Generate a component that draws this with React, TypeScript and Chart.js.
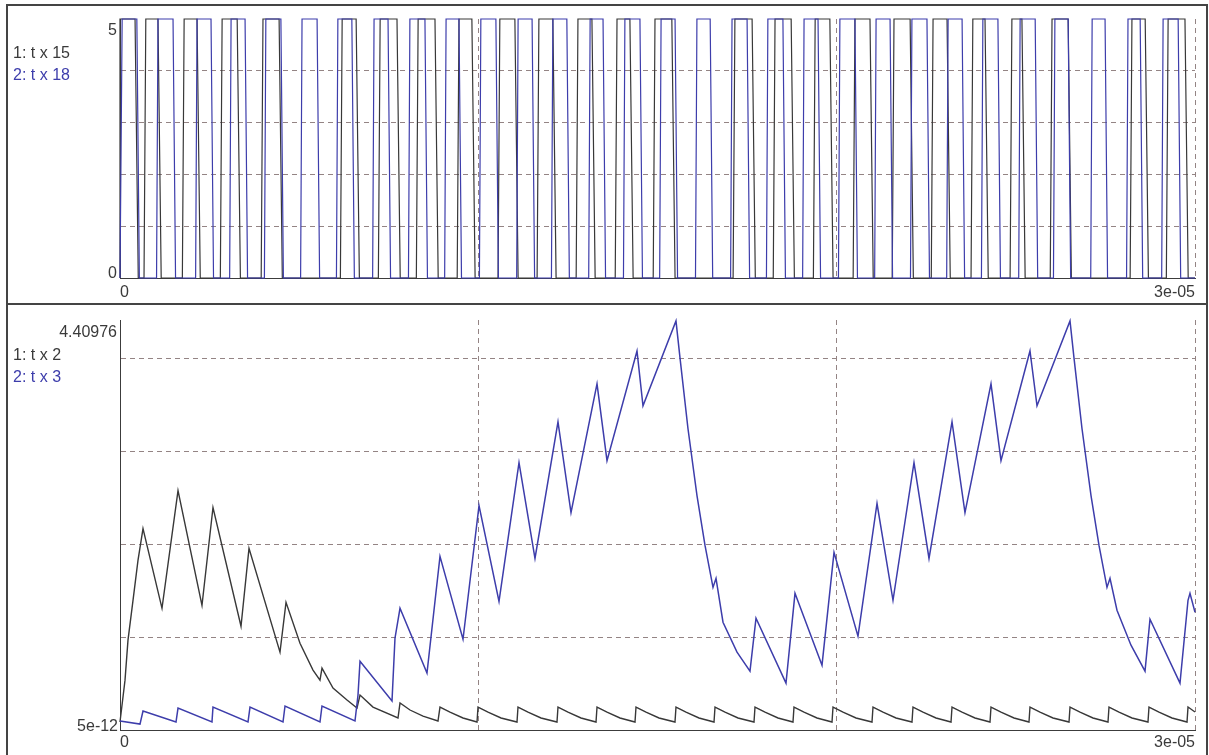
import React, { useEffect, useRef } from "react";
import { Chart, registerables } from "chart.js";

Chart.register(...registerables);

// ---------- data (time in microseconds, values in volts) ----------
const US = 1e-6;
const X_MIN = 0;
const X_MAX = 3e-5;

// top panel: digital signals, each pulse = [time it reaches high, time it leaves high] (µs)
const topLevels = [0, 5];
const blackPulses: [number, number][] = [
  [0, 0.42], [0.72, 1.06], [1.79, 2.15], [2.85, 3.27], [3.99, 4.44], [6.2, 6.59], [7.26, 7.73],
  [8.32, 8.79], [9.46, 9.82], [10.6, 11.02], [11.69, 12.08], [12.78, 13.17], [13.87, 14.23],
  [14.93, 15.4], [17.16, 17.64], [18.28, 18.73], [19.4, 19.81], [20.51, 20.93], [21.6, 22.05],
  [22.69, 23.08], [23.8, 24.14], [24.89, 25.17], [26.01, 26.46], [28.24, 28.61], [29.25, 29.72],
];
const bluePulses: [number, number][] = [
  [0.06, 0.47], [1.06, 1.48], [2.15, 2.54], [3.1, 3.49], [4.07, 4.49], [5.08, 5.5], [6.08, 6.47],
  [7.09, 7.48], [8.09, 8.51], [9.1, 9.46], [10.07, 10.49], [11.11, 11.5], [12.08, 12.47],
  [13.12, 13.48], [14.09, 14.51], [15.1, 15.49], [16.1, 16.47], [17.08, 17.5], [18.08, 18.5],
  [19.09, 19.48], [20.09, 20.51], [21.1, 21.49], [22.1, 22.52], [23.11, 23.5], [24.08, 24.5],
  [25.12, 25.54], [26.09, 26.46], [27.13, 27.49], [28.13, 28.47], [29.11, 29.53],
];
// edge durations (µs) read from the slanted edges
const blackEdge = { rise: 0.05, fall: 0.09 };
const blueEdge = { rise: 0.04, fall: 0.07 };

// bottom panel: analog traces [time µs, value]
const blackWave: [number, number][] = [
  [0, 0.086], [0.14, 0.536], [0.223, 0.966], [0.363, 1.395], [0.502, 1.824], [0.642, 2.167],
  [1.172, 1.309], [1.619, 2.575], [2.288, 1.341], [2.595, 2.393], [3.377, 1.116], [3.6, 1.953],
  [4.465, 0.837], [4.633, 1.373], [5.023, 0.933], [5.386, 0.644], [5.581, 0.536], [5.637, 0.665],
  [5.944, 0.451], [6.335, 0.322], [6.614, 0.236], [6.698, 0.376], [7.06, 0.247], [7.758, 0.129],
  [7.814, 0.29], [8.093, 0.215], [8.456, 0.15], [8.874, 0.097],
  [8.93, 0.247], [9.209, 0.193], [9.572, 0.129], [9.963, 0.086],
  [9.991, 0.247], [10.27, 0.193], [10.633, 0.129], [11.079, 0.086],
  [11.107, 0.247], [11.386, 0.193], [11.749, 0.129], [12.195, 0.086],
  [12.223, 0.247], [12.502, 0.193], [12.865, 0.129], [13.284, 0.086],
  [13.312, 0.247], [13.591, 0.193], [13.953, 0.129], [14.372, 0.086],
  [14.4, 0.247], [14.679, 0.193], [15.042, 0.129], [15.488, 0.086],
  [15.516, 0.247], [15.795, 0.193], [16.158, 0.129], [16.577, 0.086],
  [16.605, 0.247], [16.884, 0.193], [17.247, 0.129], [17.693, 0.086],
  [17.721, 0.247], [18.0, 0.193], [18.363, 0.129], [18.781, 0.086],
  [18.809, 0.247], [19.088, 0.193], [19.451, 0.129], [19.87, 0.086],
  [19.898, 0.247], [20.177, 0.193], [20.54, 0.129], [20.986, 0.086],
  [21.014, 0.247], [21.293, 0.193], [21.656, 0.129], [22.102, 0.086],
  [22.13, 0.247], [22.409, 0.193], [22.772, 0.129], [23.191, 0.086],
  [23.219, 0.247], [23.498, 0.193], [23.86, 0.129], [24.279, 0.086],
  [24.307, 0.247], [24.586, 0.193], [24.949, 0.129], [25.367, 0.086],
  [25.395, 0.247], [25.674, 0.193], [26.037, 0.129], [26.484, 0.086],
  [26.512, 0.247], [26.791, 0.193], [27.153, 0.129], [27.572, 0.086],
  [27.6, 0.247], [27.879, 0.193], [28.242, 0.129], [28.688, 0.086],
  [28.716, 0.247], [28.995, 0.193], [29.358, 0.129], [29.777, 0.086],
  [29.805, 0.247], [30, 0.193],
];
const blueWave: [number, number][] = [
  [0, 0.097], [0.558, 0.064], [0.642, 0.204], [1.563, 0.086], [1.619, 0.236], [2.567, 0.086],
  [2.595, 0.247], [3.572, 0.086], [3.628, 0.247], [4.549, 0.086], [4.605, 0.258], [5.581, 0.086],
  [5.637, 0.258], [6.558, 0.097], [6.642, 0.376], [6.698, 0.74], [7.591, 0.311], [7.674, 0.987],
  [7.814, 1.309], [8.567, 0.612], [8.93, 1.867], [9.572, 0.976], [10.019, 2.414], [10.577, 1.384],
  [11.135, 2.876], [11.581, 1.845], [12.223, 3.315], [12.586, 2.339], [13.312, 3.723],
  [13.591, 2.897], [14.428, 4.077], [14.595, 3.487], [15.516, 4.399], [15.628, 4.002],
  [15.851, 3.24], [16.102, 2.521], [16.326, 1.985], [16.549, 1.534], [16.633, 1.631],
  [16.828, 1.159], [17.219, 0.837], [17.581, 0.633], [17.749, 1.202], [18.586, 0.504],
  [18.837, 1.47], [19.591, 0.697], [19.926, 1.91], [20.595, 1.009], [21.126, 2.436],
  [21.572, 1.395], [22.158, 2.876], [22.577, 1.845], [23.219, 3.315], [23.581, 2.339],
  [24.307, 3.723], [24.586, 2.897], [25.395, 4.077], [25.591, 3.487], [26.512, 4.399],
  [26.623, 4.002], [26.847, 3.24], [27.098, 2.521], [27.321, 1.985], [27.544, 1.534],
  [27.628, 1.631], [27.823, 1.288], [28.214, 0.912], [28.605, 0.633], [28.744, 1.191],
  [29.581, 0.504], [29.805, 1.395], [29.86, 1.47], [30, 1.266],
];

const xTickLabels = ["0", "3e-05"];
const topYTickLabels = ["0", "5"];
const bottomYMin = 5e-12;
const bottomYMax = 4.40976;
const bottomYTickLabels = ["5e-12", "4.40976"];
const topLegend = ["1: t x 15", "2: t x 18"];
const bottomLegend = ["1: t x 2", "2: t x 3"];
const gridX = [1e-5, 2e-5, 3e-5];
const gridYTop = [1, 2, 3, 4];
const gridYBottom = [1, 2, 3, 4];

// ---------- styles ----------
const BLACK = "#383838";
const BLUE = "#3d3dab";
const TEXT = "#3a3a3a";
const GRID = "#948484";
const AXIS = "#3c3c3c";
const FONT = '16px "Liberation Sans", Arial, sans-serif';

function pulseTrain(pulses: [number, number][], edge: { rise: number; fall: number }, high: number) {
  const pts: { x: number; y: number }[] = [{ x: X_MIN, y: 0 }];
  for (const [a, b] of pulses) {
    pts.push({ x: Math.max(0, a - edge.rise) * US, y: 0 });
    pts.push({ x: a * US, y: high });
    pts.push({ x: b * US, y: high });
    pts.push({ x: Math.min(30, b + edge.fall) * US, y: 0 });
  }
  pts.push({ x: X_MAX, y: 0 });
  return pts;
}
const toPts = (arr: [number, number][]) => arr.map(([t, v]) => ({ x: t * US, y: v }));

type TextItem = { text: string; x: number; y: number; align: CanvasTextAlign; color: string };
const textPlugin = (items: (c: any) => TextItem[]) => ({
  id: "texts",
  afterDraw(chart: any) {
    const ctx = chart.ctx;
    ctx.save();
    ctx.font = FONT;
    ctx.textBaseline = "alphabetic";
    for (const it of items(chart)) {
      ctx.fillStyle = it.color;
      ctx.textAlign = it.align;
      ctx.fillText(it.text, it.x, it.y);
    }
    ctx.restore();
  },
});

function scales(yMin: number, yMax: number, yGrid: number[], xHeight: number) {
  return {
    x: {
      type: "linear",
      min: X_MIN,
      max: X_MAX,
      afterBuildTicks: (s: any) => {
        s.ticks = [X_MIN, ...gridX].map((v) => ({ value: v }));
      },
      afterFit: (s: any) => {
        s.height = xHeight;
      },
      ticks: { display: false },
      grid: {
        drawTicks: false,
        lineWidth: 1,
        color: (c: any) => (c.tick && c.tick.value === X_MIN ? "rgba(0,0,0,0)" : GRID),
      },
      border: { display: true, color: AXIS, width: 1, dash: [5, 4] },
    },
    y: {
      type: "linear",
      min: yMin,
      max: yMax,
      afterBuildTicks: (s: any) => {
        s.ticks = [yMin, ...yGrid].map((v) => ({ value: v }));
      },
      afterFit: (s: any) => {
        s.width = 120;
      },
      ticks: { display: false },
      grid: {
        drawTicks: false,
        lineWidth: 1,
        color: (c: any) => (c.tick && c.tick.value === yMin ? "rgba(0,0,0,0)" : GRID),
      },
      border: { display: true, color: AXIS, width: 1, dash: [5, 4] },
    },
  };
}

export default function App() {
  const topRef = useRef<HTMLCanvasElement>(null);
  const botRef = useRef<HTMLCanvasElement>(null);

  useEffect(() => {
    const common = {
      animation: false,
      responsive: false,
      devicePixelRatio: 1,
      plugins: { legend: { display: false }, tooltip: { enabled: false } },
      elements: { point: { radius: 0 }, line: { tension: 0 } },
    };

    const top = new Chart(topRef.current!, {
      type: "line",
      data: {
        datasets: [
          { label: "2", data: pulseTrain(bluePulses, blueEdge, topLevels[1]), borderColor: BLUE, borderWidth: 1.2, order: 0, clip: false, pointRadius: 0 },
          { label: "1", data: pulseTrain(blackPulses, blackEdge, topLevels[1]), borderColor: BLACK, borderWidth: 1.2, order: 1, clip: false, pointRadius: 0 },
        ],
      },
      options: {
        ...common,
        layout: { padding: { top: 19, right: 14, left: 0, bottom: 0 } },
        scales: scales(topLevels[0], topLevels[1], gridYTop, 24),
      } as any,
      plugins: [
        textPlugin((c) => {
          const a = c.chartArea;
          const y = c.scales.y;
          return [
            { text: topYTickLabels[1], x: a.left - 3, y: y.getPixelForValue(topLevels[1]) + 16, align: "right", color: TEXT },
            { text: topYTickLabels[0], x: a.left - 3, y: y.getPixelForValue(topLevels[0]), align: "right", color: TEXT },
            { text: xTickLabels[0], x: a.left, y: a.bottom + 19, align: "left", color: TEXT },
            { text: xTickLabels[1], x: a.right, y: a.bottom + 19, align: "right", color: TEXT },
            { text: topLegend[0], x: 13, y: 58, align: "left", color: TEXT },
            { text: topLegend[1], x: 13, y: 80, align: "left", color: BLUE },
          ];
        }),
      ],
    } as any);

    const bot = new Chart(botRef.current!, {
      type: "line",
      data: {
        datasets: [
          { label: "2", data: toPts(blueWave), borderColor: BLUE, borderWidth: 1.5, order: 0, clip: false, pointRadius: 0 },
          { label: "1", data: toPts(blackWave), borderColor: BLACK, borderWidth: 1.4, order: 1, clip: false, pointRadius: 0 },
        ],
      },
      options: {
        ...common,
        layout: { padding: { top: 15, right: 14, left: 0, bottom: 0 } },
        scales: scales(bottomYMin, bottomYMax, gridYBottom, 25),
      } as any,
      plugins: [
        textPlugin((c) => {
          const a = c.chartArea;
          const y = c.scales.y;
          return [
            { text: bottomYTickLabels[1], x: a.left - 3, y: y.getPixelForValue(bottomYMax) + 17, align: "right", color: TEXT },
            { text: bottomYTickLabels[0], x: a.left - 2, y: y.getPixelForValue(bottomYMin) + 1, align: "right", color: TEXT },
            { text: xTickLabels[0], x: a.left, y: a.bottom + 17, align: "left", color: TEXT },
            { text: xTickLabels[1], x: a.right, y: a.bottom + 17, align: "right", color: TEXT },
            { text: bottomLegend[0], x: 13, y: 55, align: "left", color: TEXT },
            { text: bottomLegend[1], x: 13, y: 77, align: "left", color: BLUE },
          ];
        }),
      ],
    } as any);

    return () => {
      top.destroy();
      bot.destroy();
    };
  }, []);

  return (
    <div style={{ position: "absolute", left: 0, top: 0, width: 1209, height: 755, background: "#fff", overflow: "hidden" }}>
      <div
        style={{
          position: "absolute",
          left: 6,
          top: 4,
          width: 1202,
          height: 760,
          boxSizing: "border-box",
          borderTop: "2px solid #444",
          borderLeft: "2px solid #444",
          borderRight: "2px solid #444",
        }}
      />
      <div style={{ position: "absolute", left: 6, top: 303, width: 1202, height: 2, background: "#444" }} />
      <canvas ref={topRef} width={1209} height={302} style={{ position: "absolute", left: 0, top: 0 }} />
      <canvas ref={botRef} width={1209} height={450} style={{ position: "absolute", left: 0, top: 305 }} />
    </div>
  );
}
